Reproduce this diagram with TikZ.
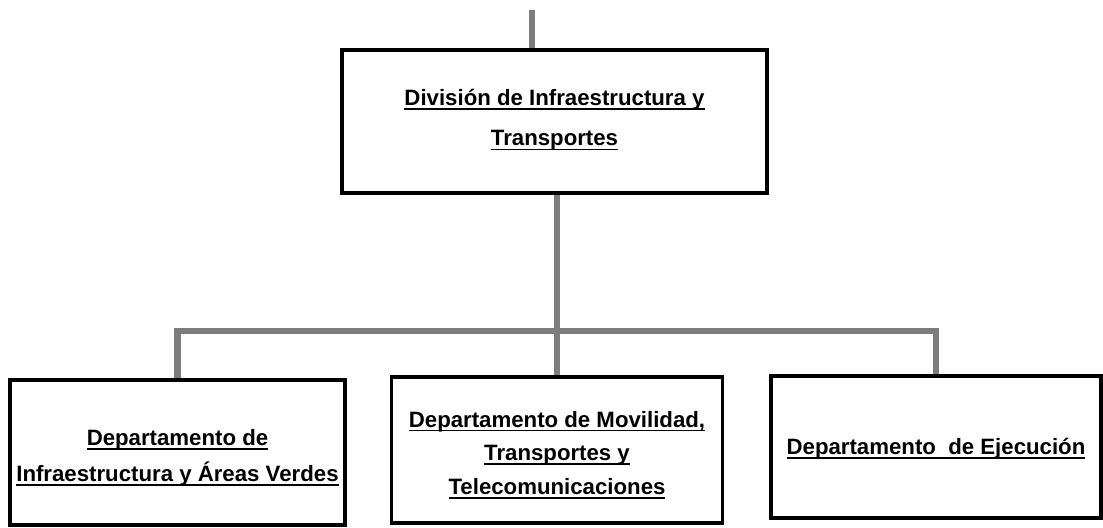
\documentclass[tikz,border=0pt]{standalone}
\usepackage{fontspec}
\setmainfont{Liberation Sans}
\definecolor{conngray}{RGB}{125,125,125}

% subrayado a profundidad fija
\newsavebox{\ulbox}
\newcommand{\ulin}[1]{\sbox{\ulbox}{#1}\rlap{\rule[-3pt]{\wd\ulbox}{1.2pt}}\usebox{\ulbox}}

\tikzset{
  unidad/.style={draw=black, line width=2.6pt, fill=white},
  rotulo/.style={align=center, font=\fontsize{15.8}{24}\selectfont\bfseries},
  conn/.style={draw=conngray, line width=4.3pt, line join=miter}
}

\begin{document}
\begin{tikzpicture}[x=0.025cm,y=-0.025cm]
\useasboundingbox (0,0) rectangle (1103,527);

%division
\node[unidad, minimum width=10.625cm, minimum height=3.575cm] (div) at (554.5,121.5) {};
\node[rotulo] (divt) at ([yshift=1pt]div.center)
  {\ulin{División de Infraestructura y}\\[4.5pt]\ulin{Transportes}};

%departamentos
\node[unidad, minimum width=8.375cm, minimum height=3.625cm] (dep1) at (177.5,452.5) {};
\node[rotulo] (dep1t) at ([yshift=-4pt]dep1.center)
  {\ulin{Departamento de}\\[1.6pt]\ulin{Infraestructura y Áreas Verdes}};
\node[unidad, minimum width=8.275cm, minimum height=3.65cm] (dep2) at (557,450) {};
\node[rotulo] (dep2t) at ([yshift=-3.5pt]dep2.center)
  {\ulin{Departamento de Movilidad,}\\\ulin{Transportes y}\\\ulin{Telecomunicaciones}};
\node[unidad, minimum width=8.25cm, minimum height=3.55cm] (dep3) at (936,447) {};
\node[rotulo] (dep3t) at ([yshift=-1.5pt]dep3.center)
  {\ulin{Departamento\ \ de Ejecución}};

%conectores
\coordinate (top) at (532,10);
\coordinate (bar) at (0,331);
\draw[conn] (top) -- (top |- div.north);
\draw[conn] (div.south -| dep2.north) -- (dep2.north);
\draw[conn] (dep1.north) -- (dep1.north |- bar) -- (dep3.north |- bar) -- (dep3.north);

\end{tikzpicture}
\end{document}
